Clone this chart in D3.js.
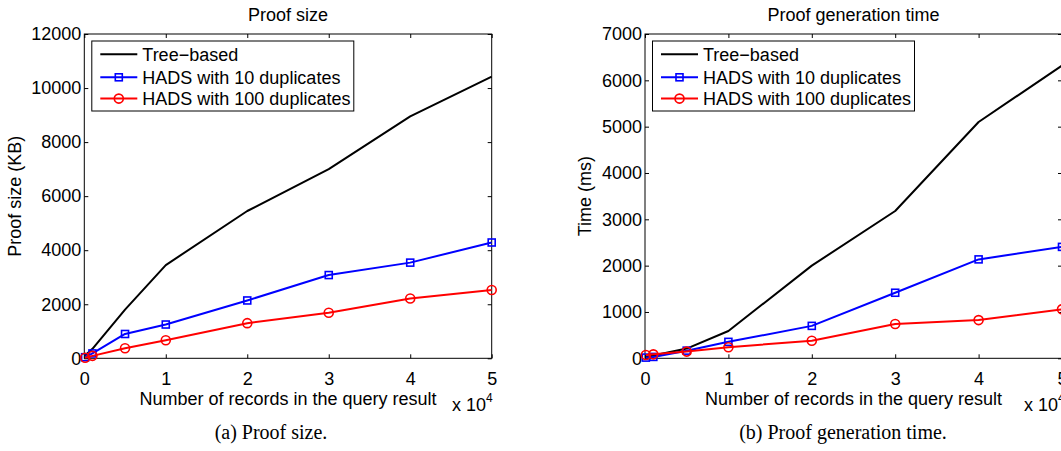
<!doctype html>
<html>
<head>
<style>
  body { margin: 0; background: #fff; }
  svg text { font-family: "Liberation Sans", Arial, sans-serif; font-size: 18px; fill: #000; }
  svg text.caption { font-family: "Liberation Serif", "Times New Roman", serif; font-size: 20px; }
</style>
</head>
<body>
<svg id="fig" width="1061" height="451"></svg>
<script src="https://d3js.org/d3.v7.min.js"></script>
<script>
const records = [100, 1000, 5000, 10000, 20000, 30000, 40000, 50000];
const xTicks = [0, 10000, 20000, 30000, 40000, 50000];
const seriesNames = ['Tree\u2212based', 'HADS with 10 duplicates', 'HADS with 100 duplicates'];

const sizeTree = [100, 350, 1800, 3450, 5450, 7000, 8950, 10420];
const sizeHads10 = [40, 180, 900, 1250, 2140, 3080, 3540, 4285];
const sizeHads100 = [20, 90, 370, 670, 1300, 1685, 2215, 2525];
const sizeTicks = [0, 2000, 4000, 6000, 8000, 10000, 12000];

const timeTree = [30, 60, 210, 590, 2000, 3180, 5100, 6320];
const timeHads10 = [15, 30, 165, 355, 700, 1415, 2135, 2405];
const timeHads100 = [70, 85, 145, 240, 380, 740, 825, 1058];
const timeTicks = [0, 1000, 2000, 3000, 4000, 5000, 6000, 7000];

const styles = [
  { color: '#000', marker: null },
  { color: '#0000ff', marker: 'square' },
  { color: '#ff0000', marker: 'circle' }
];

const svg = d3.select('#fig');
const plotTop = 34, plotBottom = 358.3;

const panels = [
  {
    left: 84.3, right: 491.7, title: 'Proof size', yLabel: 'Proof size (KB)', yLabelX: 21,
    yTicks: sizeTicks, series: [sizeTree, sizeHads10, sizeHads100],
    caption: '(a) Proof size.', captionX: 271, expX: 452
  },
  {
    left: 645, right: 1062, title: 'Proof generation time', yLabel: 'Time (ms)', yLabelX: 591,
    yTicks: timeTicks, series: [timeTree, timeHads10, timeHads100],
    caption: '(b) Proof generation time.', captionX: 843, expX: 1024
  }
];

function drawMarker(sel, type, color) {
  if (type === 'square') {
    sel.append('rect')
      .attr('x', -3.5).attr('y', -3.5).attr('width', 7).attr('height', 7)
      .attr('fill', 'none').attr('stroke', color).attr('stroke-width', 1.6);
  } else if (type === 'circle') {
    sel.append('circle')
      .attr('r', 4.5)
      .attr('fill', 'none').attr('stroke', color).attr('stroke-width', 1.6);
  }
}

panels.forEach(p => {
  const x = d3.scaleLinear().domain([0, 50000]).range([p.left, p.right]);
  const y = d3.scaleLinear().domain([0, d3.max(p.yTicks)]).range([plotBottom, plotTop]);
  const g = svg.append('g');

  g.append('rect')
    .attr('x', p.left).attr('y', plotTop)
    .attr('width', p.right - p.left).attr('height', plotBottom - plotTop)
    .attr('fill', '#fff').attr('stroke', '#000').attr('stroke-width', 1);

  const axes = [
    [d3.axisBottom(x).tickValues(xTicks).tickFormat(d => d / 10000).tickPadding(14), `translate(0,${plotBottom})`],
    [d3.axisTop(x).tickValues(xTicks).tickFormat(''), `translate(0,${plotTop})`],
    [d3.axisLeft(y).tickValues(p.yTicks).tickFormat(d3.format('d')).tickPadding(3), `translate(${p.left},0)`],
    [d3.axisRight(y).tickValues(p.yTicks).tickFormat(''), `translate(${p.right},0)`]
  ];
  axes.forEach(([axis, tr]) => {
    const a = g.append('g')
      .attr('transform', tr)
      .call(axis.tickSizeInner(-4).tickSizeOuter(0));
    a.select('.domain').remove();
    a.selectAll('line').attr('stroke', '#000');
    a.attr('font-size', null).attr('font-family', null);
  });

  const line = d3.line()
    .x((d, i) => x(records[i]))
    .y(d => y(d));

  p.series.forEach((vals, si) => {
    const st = styles[si];
    g.append('path')
      .datum(vals)
      .attr('d', line)
      .attr('fill', 'none')
      .attr('stroke', st.color)
      .attr('stroke-width', 2)
      .attr('stroke-linejoin', 'round');
    if (st.marker) {
      vals.forEach((v, i) => {
        const m = g.append('g').attr('transform', `translate(${x(records[i])},${y(v)})`);
        drawMarker(m, st.marker, st.color);
      });
    }
  });

  // legend
  const lx = p.left + 7.5;
  g.append('rect')
    .attr('x', lx).attr('y', 41)
    .attr('width', 262).attr('height', 70)
    .attr('fill', '#fff').attr('stroke', '#000').attr('stroke-width', 1);
  const rows = [54.2, 77.3, 98.6];
  seriesNames.forEach((name, i) => {
    const st = styles[i];
    const row = g.append('g').attr('transform', `translate(${p.left},${rows[i]})`);
    row.append('line')
      .attr('x1', 16).attr('x2', 53)
      .attr('stroke', st.color).attr('stroke-width', 2);
    if (st.marker) {
      const m = row.append('g').attr('transform', 'translate(34.5,0)');
      drawMarker(m, st.marker, st.color);
    }
    row.append('text')
      .attr('x', 58).attr('dy', '0.36em')
      .text(name);
  });

  const cx = (p.left + p.right) / 2;
  g.append('text')
    .attr('x', cx).attr('y', 20.5)
    .attr('text-anchor', 'middle')
    .text(p.title);

  g.append('text')
    .attr('x', cx).attr('y', 405)
    .attr('text-anchor', 'middle')
    .text('Number of records in the query result');

  const ex = g.append('text')
    .attr('x', p.expX).attr('y', 411)
    .text('x 10');
  ex.append('tspan')
    .attr('dy', -9).attr('font-size', '12px')
    .text('4');

  g.append('text')
    .attr('transform', `translate(${p.yLabelX},${(plotTop + plotBottom) / 2}) rotate(-90)`)
    .attr('text-anchor', 'middle')
    .text(p.yLabel);

  g.append('text')
    .attr('class', 'caption')
    .attr('x', p.captionX).attr('y', 439)
    .attr('text-anchor', 'middle')
    .text(p.caption);
});
</script>
</body>
</html>
